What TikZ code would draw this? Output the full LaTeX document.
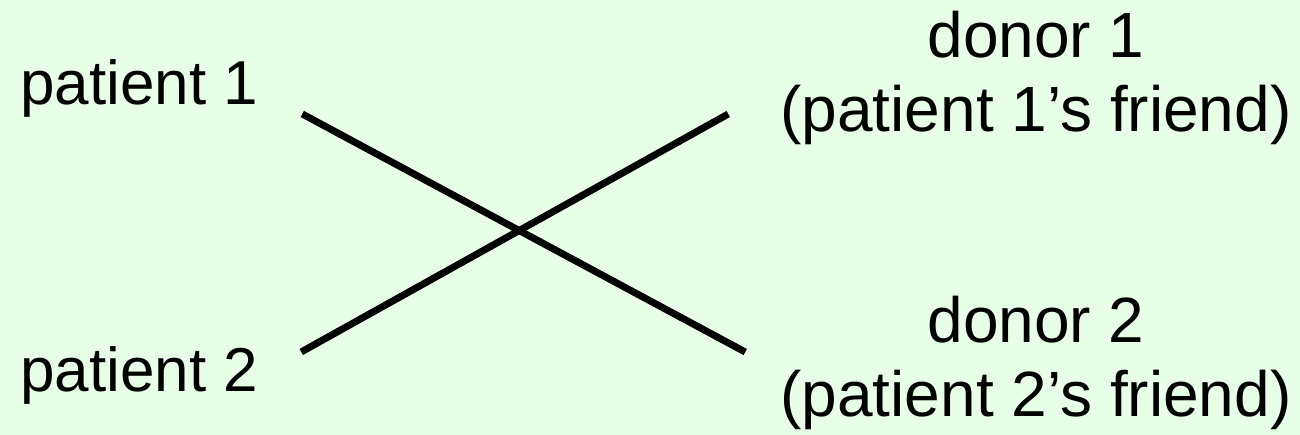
\documentclass[tikz,border=0pt]{standalone}
\usepackage{fontspec}
\setmainfont{Liberation Sans}
\usetikzlibrary{positioning}
\definecolor{cfondo}{RGB}{230,255,230}

\begin{document}
\begin{tikzpicture}[x=1pt, y=1pt, font=\fontsize{62}{62}\selectfont,
    lbl/.style={inner sep=0pt, align=center},
    dlbl/.style={lbl, anchor=north, font=\fontsize{64}{74}\selectfont},
    cruce/.style={line width=7pt}]

  % fondo y margenes
  \fill[cfondo] (0,0) rectangle (1300,435);
  \useasboundingbox (0,0) rectangle (1300,435);

  \node[lbl, anchor=base west] (p1) at (20,330) {patient 1};
  \node[lbl, anchor=base west] (p2) at (20,43) {patient 2};
  \node[dlbl] (d1) at (1036,424) {donor 1\\(patient 1’s friend)};
  \node[dlbl] (d2) at (1036,139) {donor 2\\(patient 2’s friend)};

  % emparejamiento cruzado
  \draw[cruce] ([shift={(44,-25)}]p1.east) -- ([shift={(-35,11)}]d2.west);
  \draw[cruce] ([shift={(43,24)}]p2.east) -- ([shift={(-52,-36)}]d1.west);
\end{tikzpicture}
\end{document}
